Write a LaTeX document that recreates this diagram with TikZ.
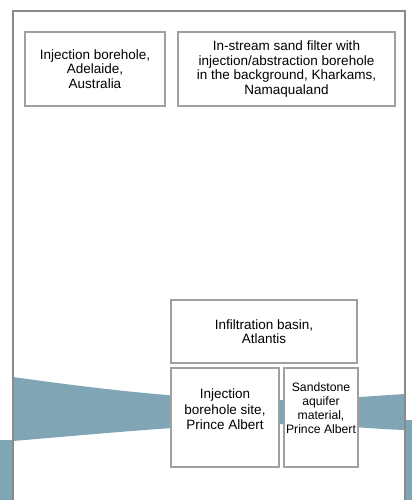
\documentclass[tikz,border=0pt]{standalone}
\usepackage{fontspec}
\setmainfont{Liberation Sans}
\usepackage{tikz}

\definecolor{bandblue}{RGB}{128,166,181}
\definecolor{framegray}{RGB}{138,138,138}
\definecolor{boxgray}{RGB}{160,160,160}

\begin{document}
\begin{tikzpicture}[x=1pt, y=-1pt,
  photo/.style={draw=boxgray, line width=1.3pt, fill=white, align=center,
    inner sep=0pt, font=\fontsize{13.5}{14.5}\selectfont},
  small/.style={font=\fontsize{12.2}{13.8}\selectfont}]
\useasboundingbox (0,0) rectangle (412,500);
% wave band behind the photos
\fill [bandblue] (0,440) rectangle (12,500);
\fill [bandblue] (406,420) rectangle (412,500);
\fill [bandblue] (13,377) .. controls (120,392) and (200,400) .. (280,400)
 .. controls (330,400) and (370,396) .. (405,394) -- (405,430)
 .. controls (370,429) and (330,424) .. (280,424)
 .. controls (200,424) and (120,432) .. (13,441) -- cycle;
% page frame
\draw [framegray, line width=2pt] (13,501) -- (13,11) -- (405,11) -- (405,501);
% photo placeholders
\node [photo, minimum width=140pt, minimum height=74pt] (adelaide) at (95,69)
 {Injection borehole,\\Adelaide,\\Australia};
\node [photo, minimum width=217pt, minimum height=74pt] (kharkams) at (286.5,69)
 {In-stream sand filter with\\injection/abstraction borehole\\in the background, Kharkams,\\Namaqualand};
\node [photo, minimum width=186pt, minimum height=63pt] (atlantis) at (264,331.5)
 {Infiltration basin,\\Atlantis};
\node [photo, minimum width=108pt, minimum height=99pt] (princealbert) at (225,417.5)
 {Injection\\[1pt]borehole site,\\[1pt]Prince Albert\\[2pt]};
\node [photo, small, minimum width=74pt, minimum height=99pt] (sandstone) at (321,417.5)
 {Sandstone\\aquifer\\material,\\Prince Albert\\[5pt]};
\end{tikzpicture}
\end{document}
